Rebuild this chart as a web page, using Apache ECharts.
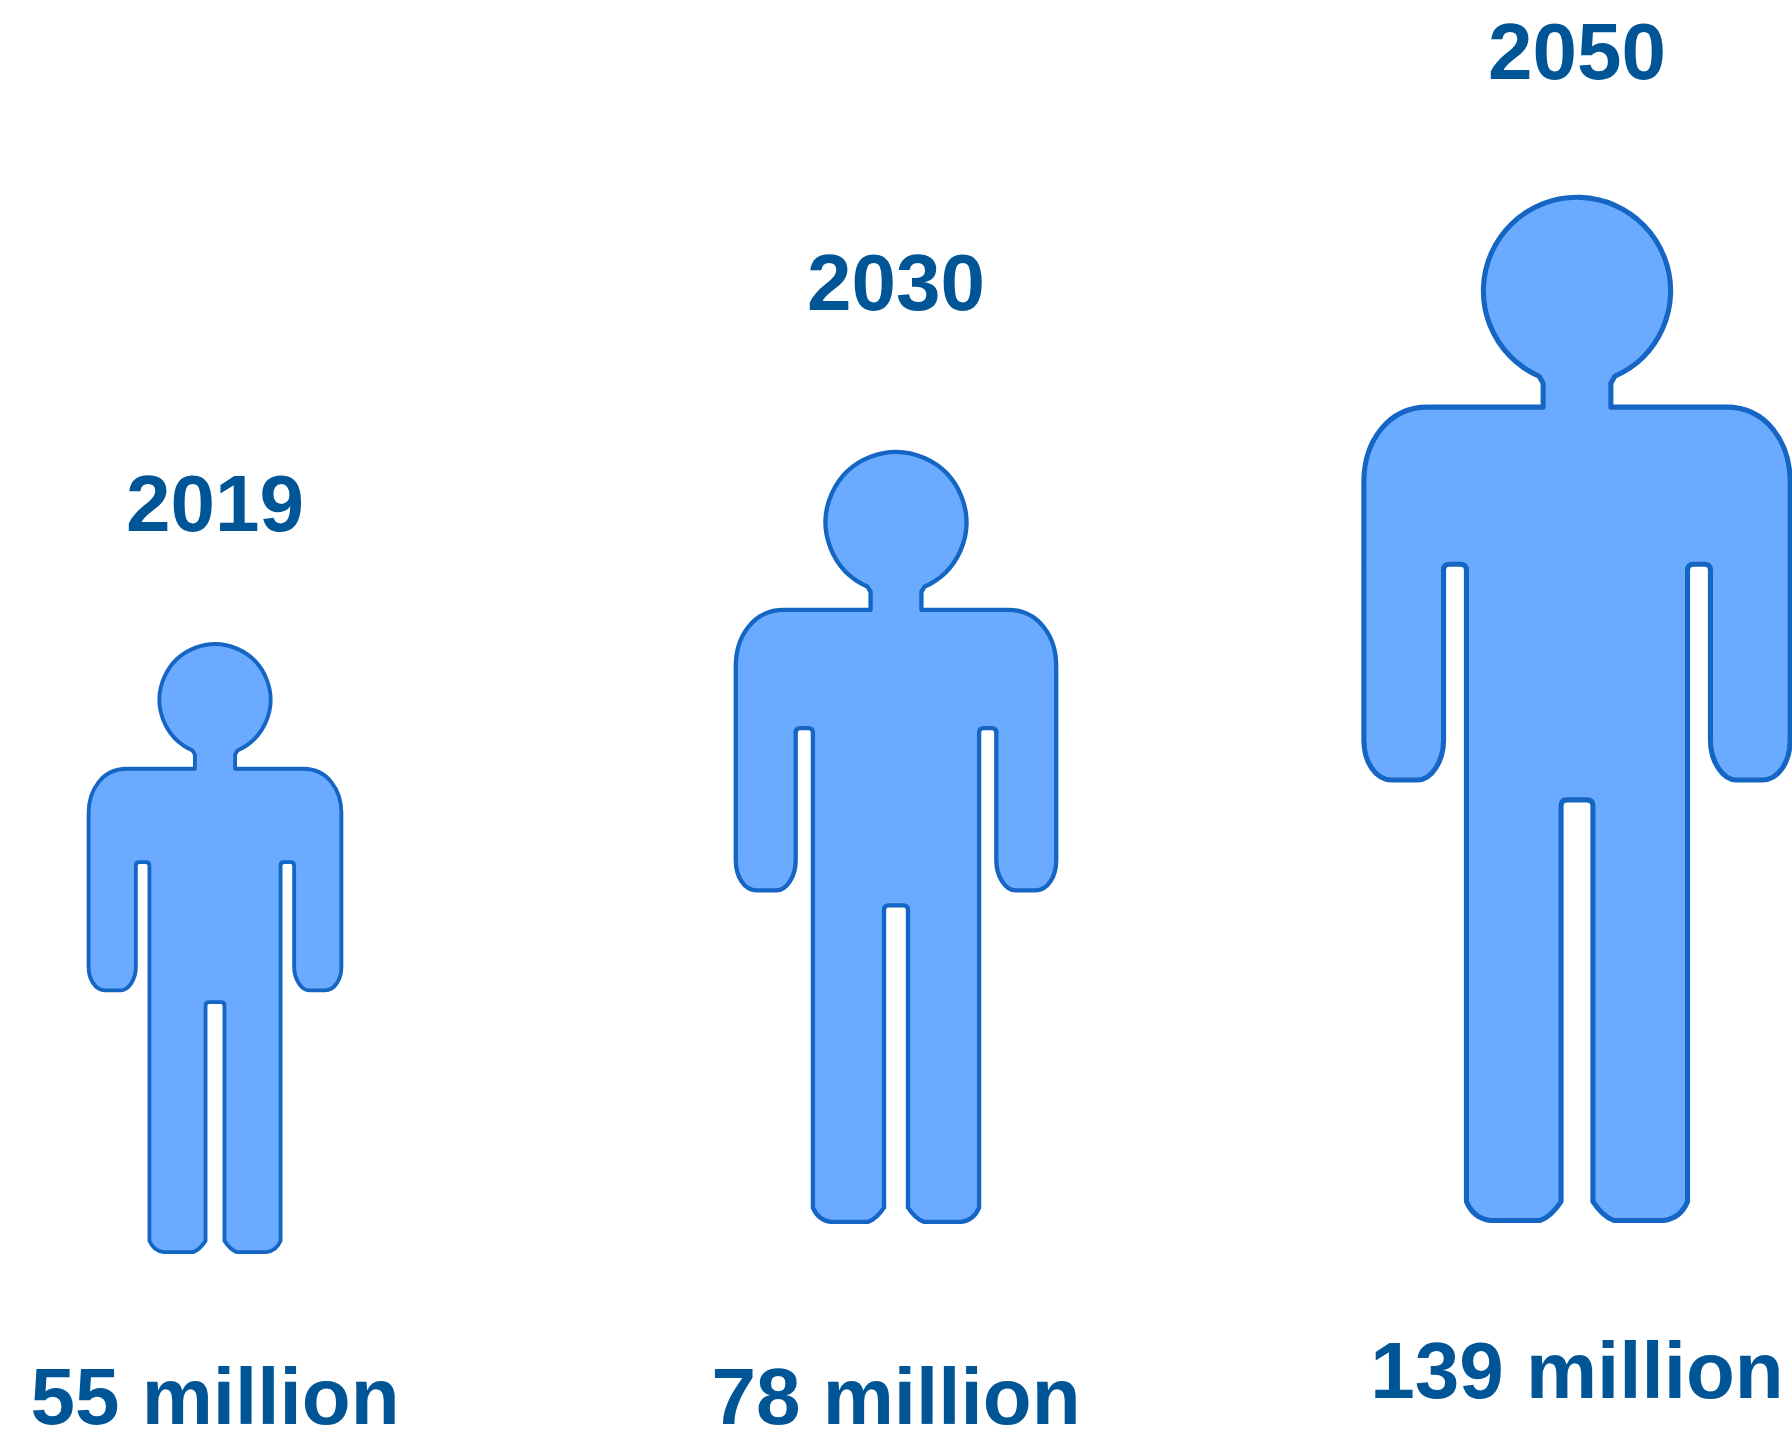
<!DOCTYPE html>
<html>
<head>
<meta charset="utf-8">
<style>html,body{margin:0;padding:0;background:#fff}#chart{width:1792px;height:1438px}</style>
<script src="https://cdn.jsdelivr.net/npm/echarts@6/dist/echarts.min.js"></script>
</head>
<body>
<div id="chart"></div>
<script>
// Population in millions per year
const years = ['2019', '2030', '2050'];
const population = [55, 78, 139];
const populationLabels = ['55 million', '78 million', '139 million'];

// Presentation settings for each figure
const sizeGain = [0.944, 1.003, 0.998];
const footLift = [0, 30, 31];
const yearLabelGap = [133, 162, 138];
const valueLabelGap = [148, 178, 153];

const ASPECT = 0.4195;
const TEXT_FONT = 'bold 80px "Liberation Sans", Arial, sans-serif';
const TEXT_COLOR = '#005596';
const BODY_FILL = '#6BABFF';
const BODY_STROKE = '#1565C4';

// Person silhouette, outline centred on x = 0
const PERSON_PATH =
  'M-34 186 L-38 179 A94 94 0 1 1 38 179 L34 186 L34 210 L150 210 C190 210 214 245 214 285 ' +
  'L214 545 C214 566 203 585 186 585 L160 585 C146 585 134 566 134 545 ' +
  'L134 374 Q134 368 128 368 L117 368 Q111 368 111 374 L111 1009 ' +
  'Q104 1026 87 1028 L37 1028 Q26 1024 16 1009 ' +
  'L16 611 Q16 605 10 605 L-10 605 Q-16 605 -16 611 L-16 1009 ' +
  'Q-26 1024 -37 1028 L-87 1028 Q-104 1026 -111 1009 ' +
  'L-111 374 Q-111 368 -117 368 L-128 368 Q-134 368 -134 374 L-134 545 ' +
  'C-134 566 -146 585 -160 585 L-186 585 C-203 585 -214 566 -214 545 ' +
  'L-214 285 C-214 245 -190 210 -150 210 L-34 210 Z';

const chart = echarts.init(document.getElementById('chart'), null, { renderer: 'canvas' });

// Figure area follows the square root of the population
function renderPerson(params, api) {
  const i = api.value(0);
  const base = api.coord([i, 0]);
  const top = api.coord([i, Math.sqrt(api.value(1)) * sizeGain[i]]);
  const height = base[1] - top[1];
  const width = height * ASPECT;
  const foot = base[1] - footLift[i];
  const head = foot - height;
  const lineWidth = 2 + height * 0.003;
  const cx = base[0];
  return {
    type: 'group',
    children: [
      {
        type: 'path',
        shape: {
          pathData: PERSON_PATH,
          layout: 'cover',
          x: cx - width / 2 + lineWidth / 2,
          y: head + lineWidth / 2,
          width: width - lineWidth,
          height: height - lineWidth
        },
        style: { fill: BODY_FILL, stroke: BODY_STROKE, lineWidth: lineWidth, lineJoin: 'round' }
      },
      {
        type: 'text',
        style: {
          text: years[i], x: cx, y: head - yearLabelGap[i],
          textAlign: 'center', textVerticalAlign: 'middle',
          font: TEXT_FONT, fill: TEXT_COLOR
        }
      },
      {
        type: 'text',
        style: {
          text: populationLabels[i], x: cx, y: foot + valueLabelGap[i],
          textAlign: 'center', textVerticalAlign: 'middle',
          font: TEXT_FONT, fill: TEXT_COLOR
        }
      }
    ]
  };
}

chart.setOption({
  animation: false,
  backgroundColor: '#ffffff',
  grid: { left: 215, top: 0, width: 1362, height: 1254 },
  xAxis: { type: 'category', data: years, boundaryGap: false, show: false },
  yAxis: { type: 'value', min: 0, max: 14.35, show: false },
  series: [{
    type: 'custom',
    clip: false,
    silent: true,
    renderItem: renderPerson,
    encode: { x: 0, y: 1 },
    data: years.map((_, i) => [i, population[i]])
  }]
});
</script>
</body>
</html>
